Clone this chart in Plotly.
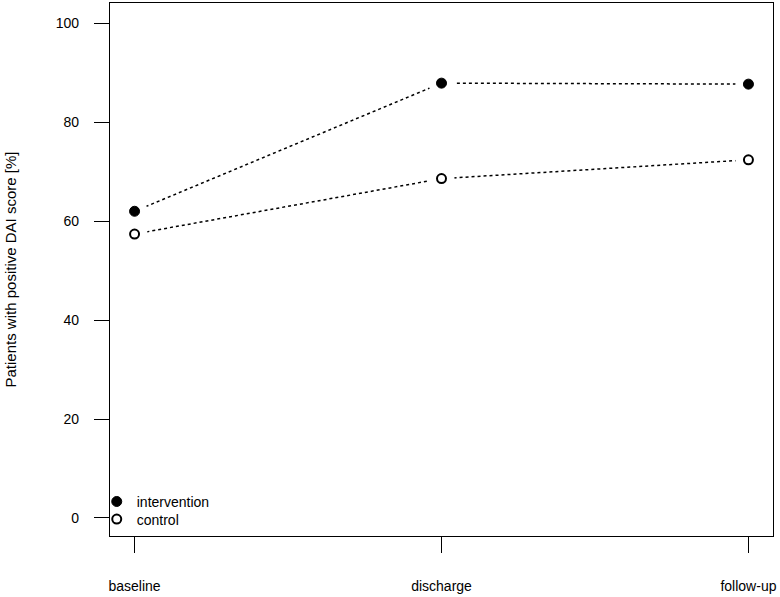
import plotly.graph_objects as go

timepoints = ["baseline", "discharge", "follow-up"]
x_pos = [1, 2, 3]
intervention = [62.0, 87.9, 87.7]
control = [57.4, 68.6, 72.4]
y_ticks = [0, 20, 40, 60, 80, 100]

FONT = "Liberation Sans, Arial, sans-serif"
fig = go.Figure()

# dotted connecting lines
for vals in (intervention, control):
    fig.add_trace(go.Scatter(x=x_pos, y=vals, mode="lines", showlegend=False,
                             line=dict(color="black", width=1.5, dash="3px,3px"),
                             hoverinfo="skip"))
# white underlay to create gaps (R type="b")
for vals in (intervention, control):
    fig.add_trace(go.Scatter(x=x_pos, y=vals, mode="markers", showlegend=False,
                             marker=dict(color="white", size=26, line=dict(width=0)),
                             hoverinfo="skip"))
fig.add_trace(go.Scatter(x=x_pos, y=intervention, mode="markers", name="intervention",
                         legend="legend",
                         marker=dict(color="black", size=10, line=dict(color="black", width=1))))
fig.add_trace(go.Scatter(x=x_pos, y=control, mode="markers", name="control",
                         legend="legend2",
                         marker=dict(color="white", size=9, line=dict(color="black", width=2))))

leg_common = dict(xanchor="left", yanchor="middle", bgcolor="rgba(0,0,0,0)",
                  font=dict(size=14), itemwidth=30, borderwidth=0)

fig.update_layout(
    width=780, height=597,
    margin=dict(l=110, r=7, t=3, b=61, autoexpand=False),
    paper_bgcolor="white", plot_bgcolor="white",
    font=dict(family=FONT, size=14, color="black"),
    showlegend=True,
    legend=dict(x=-0.02, y=0.064, **leg_common),
    legend2=dict(x=-0.02, y=0.031, **leg_common),
    xaxis=dict(range=[0.92, 3.08], tickvals=x_pos, ticktext=timepoints,
               showgrid=False, zeroline=False, showline=True, mirror=True,
               linecolor="black", linewidth=1.2, ticks="outside", ticklen=16,
               tickwidth=1.2, tickcolor="black", ticklabelstandoff=21,
               automargin=False),
    yaxis=dict(range=[-3.64, 104.1], tickvals=y_ticks,
               showgrid=False, zeroline=False, showline=True, mirror=True,
               linecolor="black", linewidth=1.2, ticks="outside", ticklen=15,
               tickwidth=1.2, tickcolor="black", ticklabelstandoff=12,
               automargin=False),
    annotations=[dict(text="Patients with positive DAI score [%]", x=0, y=0.5,
                      xref="paper", yref="paper", xanchor="center", yanchor="middle",
                      xshift=-100, textangle=-90, showarrow=False,
                      font=dict(size=15, family=FONT))],
)

fig.write_html("out.html", config={"displayModeBar": False},
               post_script="document.body.style.margin='0';document.body.style.padding='0';")
